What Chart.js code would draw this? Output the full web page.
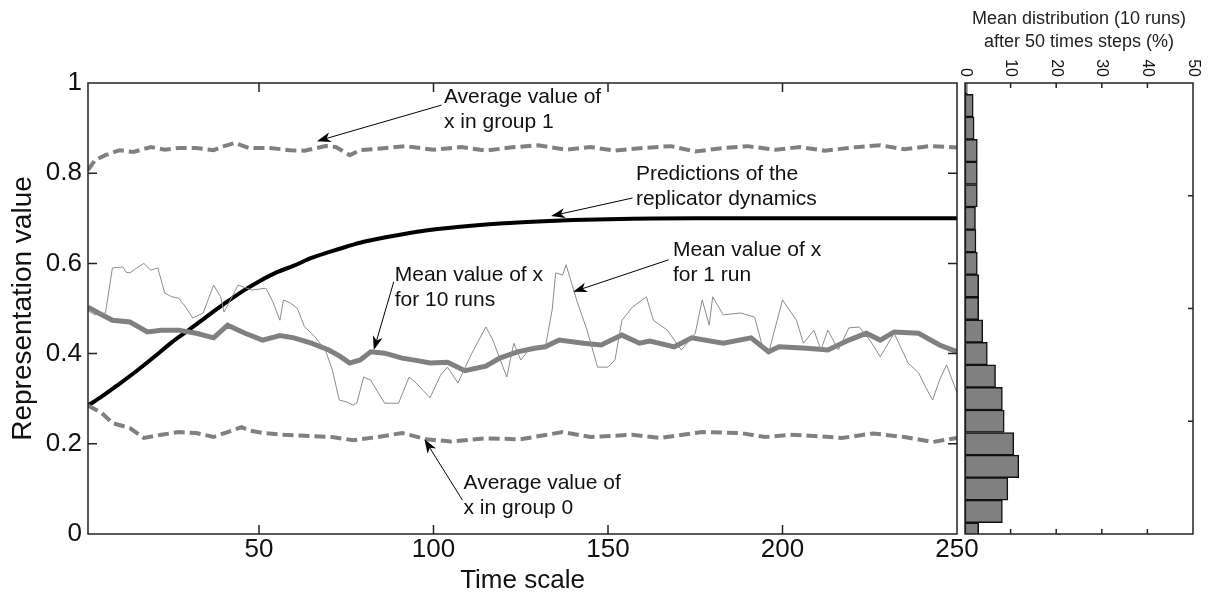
<!DOCTYPE html>
<html>
<head>
<meta charset="utf-8">
<script src="https://cdn.jsdelivr.net/npm/chart.js@4.4.0/dist/chart.umd.min.js"></script>
<style>
    html, body { margin: 0; padding: 0; background: #fff; }
    #lienzo { position: relative; width: 1217px; height: 601px; }
    #lienzo canvas { position: absolute; left: 0; top: 0; }
</style>
</head>
<body>
<div id="lienzo">
    <canvas id="chartPrincipal" width="1217" height="601"></canvas>
    <canvas id="chartHistograma" width="1217" height="601"></canvas>
</div>
<script>
/* ========================================
   Datos
   ======================================== */

// Ticks del gráfico principal
const xTickValues = [50, 100, 150, 200, 250];
const yTickValues = [0, 0.2, 0.4, 0.6, 0.8, 1];
const yTickLabels = ['0', '0.2', '0.4', '0.6', '0.8', '1'];

// Predicciones de la dinámica del replicador (línea negra)
const replicadorT = [1, 5, 10, 15, 20, 25, 30, 35, 40, 45, 50, 55, 60, 65, 70, 75, 80, 90, 100, 110, 120, 130, 140, 150, 175, 200, 225, 250];
const replicadorV = [0.285, 0.305, 0.333, 0.362, 0.393, 0.425, 0.453, 0.482, 0.51, 0.537, 0.56, 0.58, 0.595, 0.612, 0.625, 0.637, 0.648, 0.663, 0.675, 0.683, 0.689, 0.693, 0.696, 0.698, 0.7, 0.7, 0.7, 0.7];

// Valor medio de x en el grupo 1 (discontinua superior)
const grupo1T = [1, 3, 6, 10, 14, 19, 23, 27, 32, 37, 40, 43, 47, 53, 59, 63, 69, 72, 76, 79, 85, 92, 100, 108, 115, 122, 130, 138, 145, 152, 160, 168, 175, 182, 190, 198, 205, 212, 220, 228, 235, 242, 250];
const grupo1V = [0.807, 0.829, 0.84, 0.851, 0.847, 0.858, 0.852, 0.856, 0.856, 0.851, 0.86, 0.867, 0.856, 0.856, 0.851, 0.85, 0.86, 0.858, 0.84, 0.851, 0.855, 0.86, 0.852, 0.858, 0.85, 0.857, 0.862, 0.852, 0.858, 0.85, 0.856, 0.86, 0.848, 0.855, 0.86, 0.852, 0.858, 0.85, 0.857, 0.862, 0.853, 0.86, 0.857];

// Valor medio de x en el grupo 0 (discontinua inferior)
const grupo0T = [1, 5, 8, 13, 17, 22, 27, 32, 37, 41, 45, 47, 51, 57, 63, 71, 77, 84, 91, 98, 105, 115, 125, 137, 145, 157, 165, 177, 188, 195, 202, 210, 217, 226, 235, 243, 250];
const grupo0V = [0.285, 0.268, 0.246, 0.235, 0.213, 0.22, 0.226, 0.224, 0.215, 0.226, 0.237, 0.23, 0.224, 0.22, 0.218, 0.215, 0.208, 0.215, 0.224, 0.21, 0.205, 0.212, 0.21, 0.226, 0.215, 0.22, 0.213, 0.226, 0.224, 0.215, 0.22, 0.217, 0.213, 0.223, 0.215, 0.204, 0.213];

// Valor medio de x para 10 ejecuciones (gris grueso)
const media10T = [1, 4, 8, 13, 18, 22, 27, 32, 37, 41, 46, 51, 56, 60, 65, 70, 73, 76, 79, 82, 86, 91, 95, 99, 104, 109, 115, 119, 124, 129, 132, 136, 143, 148, 154, 159, 162, 169, 174, 183, 191, 196, 199, 207, 213, 219, 224, 228, 232, 239, 245, 250];
const media10V = [0.503, 0.49, 0.474, 0.47, 0.448, 0.452, 0.452, 0.445, 0.435, 0.463, 0.445, 0.43, 0.44, 0.435, 0.423, 0.408, 0.395, 0.379, 0.386, 0.404, 0.401, 0.39, 0.385, 0.379, 0.381, 0.362, 0.372, 0.39, 0.404, 0.412, 0.415, 0.43, 0.423, 0.419, 0.441, 0.423, 0.428, 0.415, 0.435, 0.423, 0.435, 0.404, 0.415, 0.412, 0.408, 0.43, 0.445, 0.43, 0.448, 0.445, 0.419, 0.404];

// Valor medio de x para 1 ejecución (gris fino)
const media1T = [1, 3, 6, 8, 11, 12, 13, 15, 17, 19, 21, 23, 25, 27, 29, 31, 34, 37, 39, 40, 44, 48, 52, 54, 56, 57, 59, 61, 63, 66, 69, 71, 73, 75, 77, 78, 80, 82, 86, 90, 93, 95, 99, 102, 104, 107, 111, 115, 117, 121, 123, 125, 128, 132, 134, 135, 137, 138, 141, 144, 147, 150, 152, 154, 157, 161, 163, 167, 171, 175, 177, 179, 180, 183, 188, 192, 194, 196, 200, 204, 206, 209, 211, 213, 216, 219, 222, 225, 228, 232, 236, 239, 241, 243, 245, 247, 250];
const media1V = [0.495, 0.486, 0.49, 0.59, 0.592, 0.58, 0.579, 0.59, 0.6, 0.585, 0.59, 0.534, 0.526, 0.523, 0.503, 0.479, 0.49, 0.552, 0.526, 0.492, 0.552, 0.541, 0.545, 0.514, 0.474, 0.519, 0.512, 0.5, 0.46, 0.437, 0.408, 0.364, 0.297, 0.293, 0.286, 0.29, 0.348, 0.341, 0.29, 0.29, 0.348, 0.335, 0.302, 0.352, 0.37, 0.335, 0.401, 0.459, 0.43, 0.348, 0.423, 0.386, 0.415, 0.412, 0.497, 0.579, 0.574, 0.597, 0.519, 0.452, 0.37, 0.37, 0.386, 0.474, 0.503, 0.526, 0.474, 0.452, 0.408, 0.445, 0.519, 0.463, 0.526, 0.486, 0.49, 0.481, 0.423, 0.401, 0.519, 0.474, 0.423, 0.452, 0.408, 0.452, 0.408, 0.457, 0.459, 0.43, 0.393, 0.445, 0.379, 0.357, 0.326, 0.297, 0.341, 0.375, 0.313];

// Histograma: centros de las clases y porcentaje medio (10 ejecuciones)
const histCentros = [0, 0.05, 0.1, 0.15, 0.2, 0.25, 0.3, 0.35, 0.4, 0.45, 0.5, 0.55, 0.6, 0.65, 0.7, 0.75, 0.8, 0.85, 0.9, 0.95, 1];
const histPorcentaje = [3.0, 8.2, 9.4, 11.8, 10.7, 8.6, 8.2, 6.7, 4.9, 3.9, 3.0, 3.0, 2.7, 2.4, 2.3, 2.7, 2.7, 2.7, 2.0, 1.8, 0.5];
const histTickValues = [0, 10, 20, 30, 40, 50];
const histYTicks = [0.25, 0.5, 0.75];

/* ========================================
   Estilos comunes
   ======================================== */
const FUENTE = "'Liberation Sans', Arial, sans-serif";
const GRIS = 'rgb(128, 128, 128)';
const NEGRO = '#000';

// Anotaciones con flecha (posiciones en coordenadas de datos)
const anotaciones = [
    { lineas: ['Average value of', 'x in group 1'], texto: [103, 0.969], desde: [102.3, 0.951], hasta: [66.6, 0.871] },
    { lineas: ['Predictions of the', 'replicator dynamics'], texto: [158, 0.798], desde: [157, 0.745], hasta: [133.7, 0.705] },
    { lineas: ['Mean value of x', 'for 1 run'], texto: [168.6, 0.63], desde: [167.4, 0.608], hasta: [140, 0.537] },
    { lineas: ['Mean value of x', 'for 10 runs'], texto: [88.9, 0.574], desde: [88.6, 0.559], hasta: [82.9, 0.408] },
    { lineas: ['Average value of', 'x in group 0'], texto: [108.6, 0.113], desde: [108.3, 0.075], hasta: [97.4, 0.21] }
];

function aPuntos(ts, vs) {
    return ts.map((t, i) => ({ x: t, y: vs[i] }));
}

/**
 * Marco tipo MATLAB con ticks hacia dentro
 */
const marcoPlugin = {
    id: 'marco',
    afterDraw(chart, args, opts) {
        const { ctx, chartArea: a, scales } = chart;
        ctx.save();
        ctx.strokeStyle = '#222';
        ctx.lineWidth = 1.5;
        ctx.strokeRect(a.left, a.top, a.right - a.left, a.bottom - a.top);
        const len = opts.largo || 9;
        ctx.beginPath();
        (opts.xTicks || []).forEach(v => {
            const px = scales.x.getPixelForValue(v);
            if (px <= a.left + 1 || px >= a.right - 1) return;
            ctx.moveTo(px, a.bottom); ctx.lineTo(px, a.bottom - len);
            ctx.moveTo(px, a.top); ctx.lineTo(px, a.top + len);
        });
        (opts.yTicks || []).forEach(v => {
            const py = scales.y.getPixelForValue(v);
            if (py <= a.top + 1 || py >= a.bottom - 1) return;
            if (opts.izquierda !== false) {
                ctx.moveTo(a.left, py); ctx.lineTo(a.left + len, py);
            }
            ctx.moveTo(a.right, py); ctx.lineTo(a.right - len, py);
        });
        ctx.stroke();
        ctx.restore();
    }
};

/**
 * Textos y flechas de las anotaciones
 */
const anotacionesPlugin = {
    id: 'anotaciones',
    afterDatasetsDraw(chart) {
        const { ctx, scales: { x, y } } = chart;
        ctx.save();
        ctx.font = '21px ' + FUENTE;
        ctx.fillStyle = '#111';
        ctx.strokeStyle = NEGRO;
        ctx.textAlign = 'left';
        ctx.textBaseline = 'middle';
        anotaciones.forEach(an => {
            const tx = x.getPixelForValue(an.texto[0]);
            const ty = y.getPixelForValue(an.texto[1]);
            an.lineas.forEach((txt, i) => ctx.fillText(txt, tx, ty + i * 25));

            const x1 = x.getPixelForValue(an.desde[0]), y1 = y.getPixelForValue(an.desde[1]);
            const x2 = x.getPixelForValue(an.hasta[0]), y2 = y.getPixelForValue(an.hasta[1]);
            const ang = Math.atan2(y2 - y1, x2 - x1);
            ctx.lineWidth = 1;
            ctx.beginPath();
            ctx.moveTo(x1, y1);
            ctx.lineTo(x2 - 8 * Math.cos(ang), y2 - 8 * Math.sin(ang));
            ctx.stroke();
            // punta de flecha
            ctx.beginPath();
            ctx.moveTo(x2, y2);
            ctx.lineTo(x2 - 14 * Math.cos(ang) + 5 * Math.sin(ang), y2 - 14 * Math.sin(ang) - 5 * Math.cos(ang));
            ctx.lineTo(x2 - 10 * Math.cos(ang), y2 - 10 * Math.sin(ang));
            ctx.lineTo(x2 - 14 * Math.cos(ang) - 5 * Math.sin(ang), y2 - 14 * Math.sin(ang) + 5 * Math.cos(ang));
            ctx.closePath();
            ctx.fillStyle = NEGRO;
            ctx.fill();
            ctx.fillStyle = '#111';
        });
        ctx.restore();
    }
};

/**
 * Etiquetas giradas del eje superior del histograma
 */
const etiquetasGiradasPlugin = {
    id: 'etiquetasGiradas',
    afterDraw(chart) {
        const { ctx, chartArea: a, scales: { x } } = chart;
        ctx.save();
        ctx.font = '16px ' + FUENTE;
        ctx.fillStyle = '#111';
        ctx.textAlign = 'right';
        ctx.textBaseline = 'middle';
        histTickValues.forEach(v => {
            ctx.save();
            ctx.translate(x.getPixelForValue(v), a.top - 6);
            ctx.rotate(Math.PI / 2);
            ctx.fillText(String(v), 0, 0);
            ctx.restore();
        });
        ctx.restore();
    }
};

/* ========================================
   Gráfico principal (líneas)
   ======================================== */
const chartPrincipal = new Chart(document.getElementById('chartPrincipal'), {
    type: 'line',
    data: {
        datasets: [
            {
                label: 'Average value of x in group 1',
                data: aPuntos(grupo1T, grupo1V),
                borderColor: GRIS, borderWidth: 4, borderDash: [11, 5]
            },
            {
                label: 'Average value of x in group 0',
                data: aPuntos(grupo0T, grupo0V),
                borderColor: GRIS, borderWidth: 4, borderDash: [11, 5]
            },
            {
                label: 'Mean value of x for 1 run',
                data: aPuntos(media1T, media1V),
                borderColor: 'rgb(140, 140, 140)', borderWidth: 1
            },
            {
                label: 'Mean value of x for 10 runs',
                data: aPuntos(media10T, media10V),
                borderColor: GRIS, borderWidth: 5
            },
            {
                label: 'Predictions of the replicator dynamics',
                data: aPuntos(replicadorT, replicadorV),
                borderColor: NEGRO, borderWidth: 4, cubicInterpolationMode: 'monotone'
            }
        ]
    },
    options: {
        responsive: false,
        animation: false,
        events: [],
        elements: { point: { radius: 0 }, line: { tension: 0, fill: false } },
        layout: { padding: { top: 83, right: 260, left: 4, bottom: 0 } },
        plugins: {
            legend: { display: false },
            tooltip: { enabled: false },
            marco: { xTicks: xTickValues, yTicks: yTickValues, largo: 9 }
        },
        scales: {
            x: {
                type: 'linear', min: 1, max: 250,
                afterBuildTicks: s => { s.ticks = xTickValues.map(v => ({ value: v })); },
                afterFit: s => { s.height = 67; },
                grid: { display: false, drawTicks: false },
                border: { display: false },
                ticks: { color: '#111', padding: 3, maxRotation: 0, font: { family: FUENTE, size: 26, lineHeight: 1 } },
                title: { display: true, text: 'Time scale', color: '#111', padding: { top: 0, bottom: 5 }, font: { family: FUENTE, size: 26, lineHeight: 1.2 } }
            },
            y: {
                type: 'linear', min: 0, max: 1,
                afterBuildTicks: s => { s.ticks = yTickValues.map(v => ({ value: v })); },
                afterFit: s => { s.width = 84; },
                grid: { display: false, drawTicks: false },
                border: { display: false },
                ticks: {
                    color: '#111', padding: 6, font: { family: FUENTE, size: 26, lineHeight: 1 },
                    callback: (v, i) => yTickLabels[i]
                },
                title: { display: true, text: 'Representation value', color: '#111', padding: 2, font: { family: FUENTE, size: 28, lineHeight: 1.2 } }
            }
        }
    },
    plugins: [marcoPlugin, anotacionesPlugin]
});

/* ========================================
   Histograma (barras horizontales)
   ======================================== */
const chartHistograma = new Chart(document.getElementById('chartHistograma'), {
    type: 'bar',
    data: {
        datasets: [{
            label: 'Mean distribution (10 runs) after 50 times steps (%)',
            data: histCentros.map((c, i) => ({ x: histPorcentaje[i], y: c })),
            backgroundColor: 'rgb(128, 128, 128)',
            borderColor: '#111',
            borderWidth: 1.5,
            borderSkipped: false,
            barPercentage: 1,
            categoryPercentage: 1,
            clip: 0
        }]
    },
    options: {
        indexAxis: 'y',
        responsive: false,
        animation: false,
        events: [],
        layout: { padding: { top: 7, right: 24, left: 965, bottom: 67 } },
        plugins: {
            legend: { display: false },
            tooltip: { enabled: false },
            title: {
                display: true,
                text: ['Mean distribution (10 runs)', 'after 50 times steps (%)'],
                color: '#222',
                padding: { top: 0, bottom: 0 },
                font: { family: FUENTE, size: 18, weight: 'normal', lineHeight: 1.3 }
            },
            marco: { xTicks: histTickValues, yTicks: histYTicks, largo: 5, izquierda: false }
        },
        scales: {
            x: {
                type: 'linear', position: 'top', min: 0, max: 50,
                afterBuildTicks: s => { s.ticks = histTickValues.map(v => ({ value: v })); },
                afterFit: s => { s.height = 29.2; },
                grid: { display: false, drawTicks: false },
                border: { display: false },
                ticks: { display: false }
            },
            y: {
                type: 'linear', min: 0, max: 1, offset: false,
                afterBuildTicks: s => { s.ticks = histYTicks.map(v => ({ value: v })); },
                afterFit: s => { s.width = 0; },
                grid: { display: false, drawTicks: false },
                border: { display: false },
                ticks: { display: false }
            }
        }
    },
    plugins: [marcoPlugin, etiquetasGiradasPlugin]
});
</script>
</body>
</html>
